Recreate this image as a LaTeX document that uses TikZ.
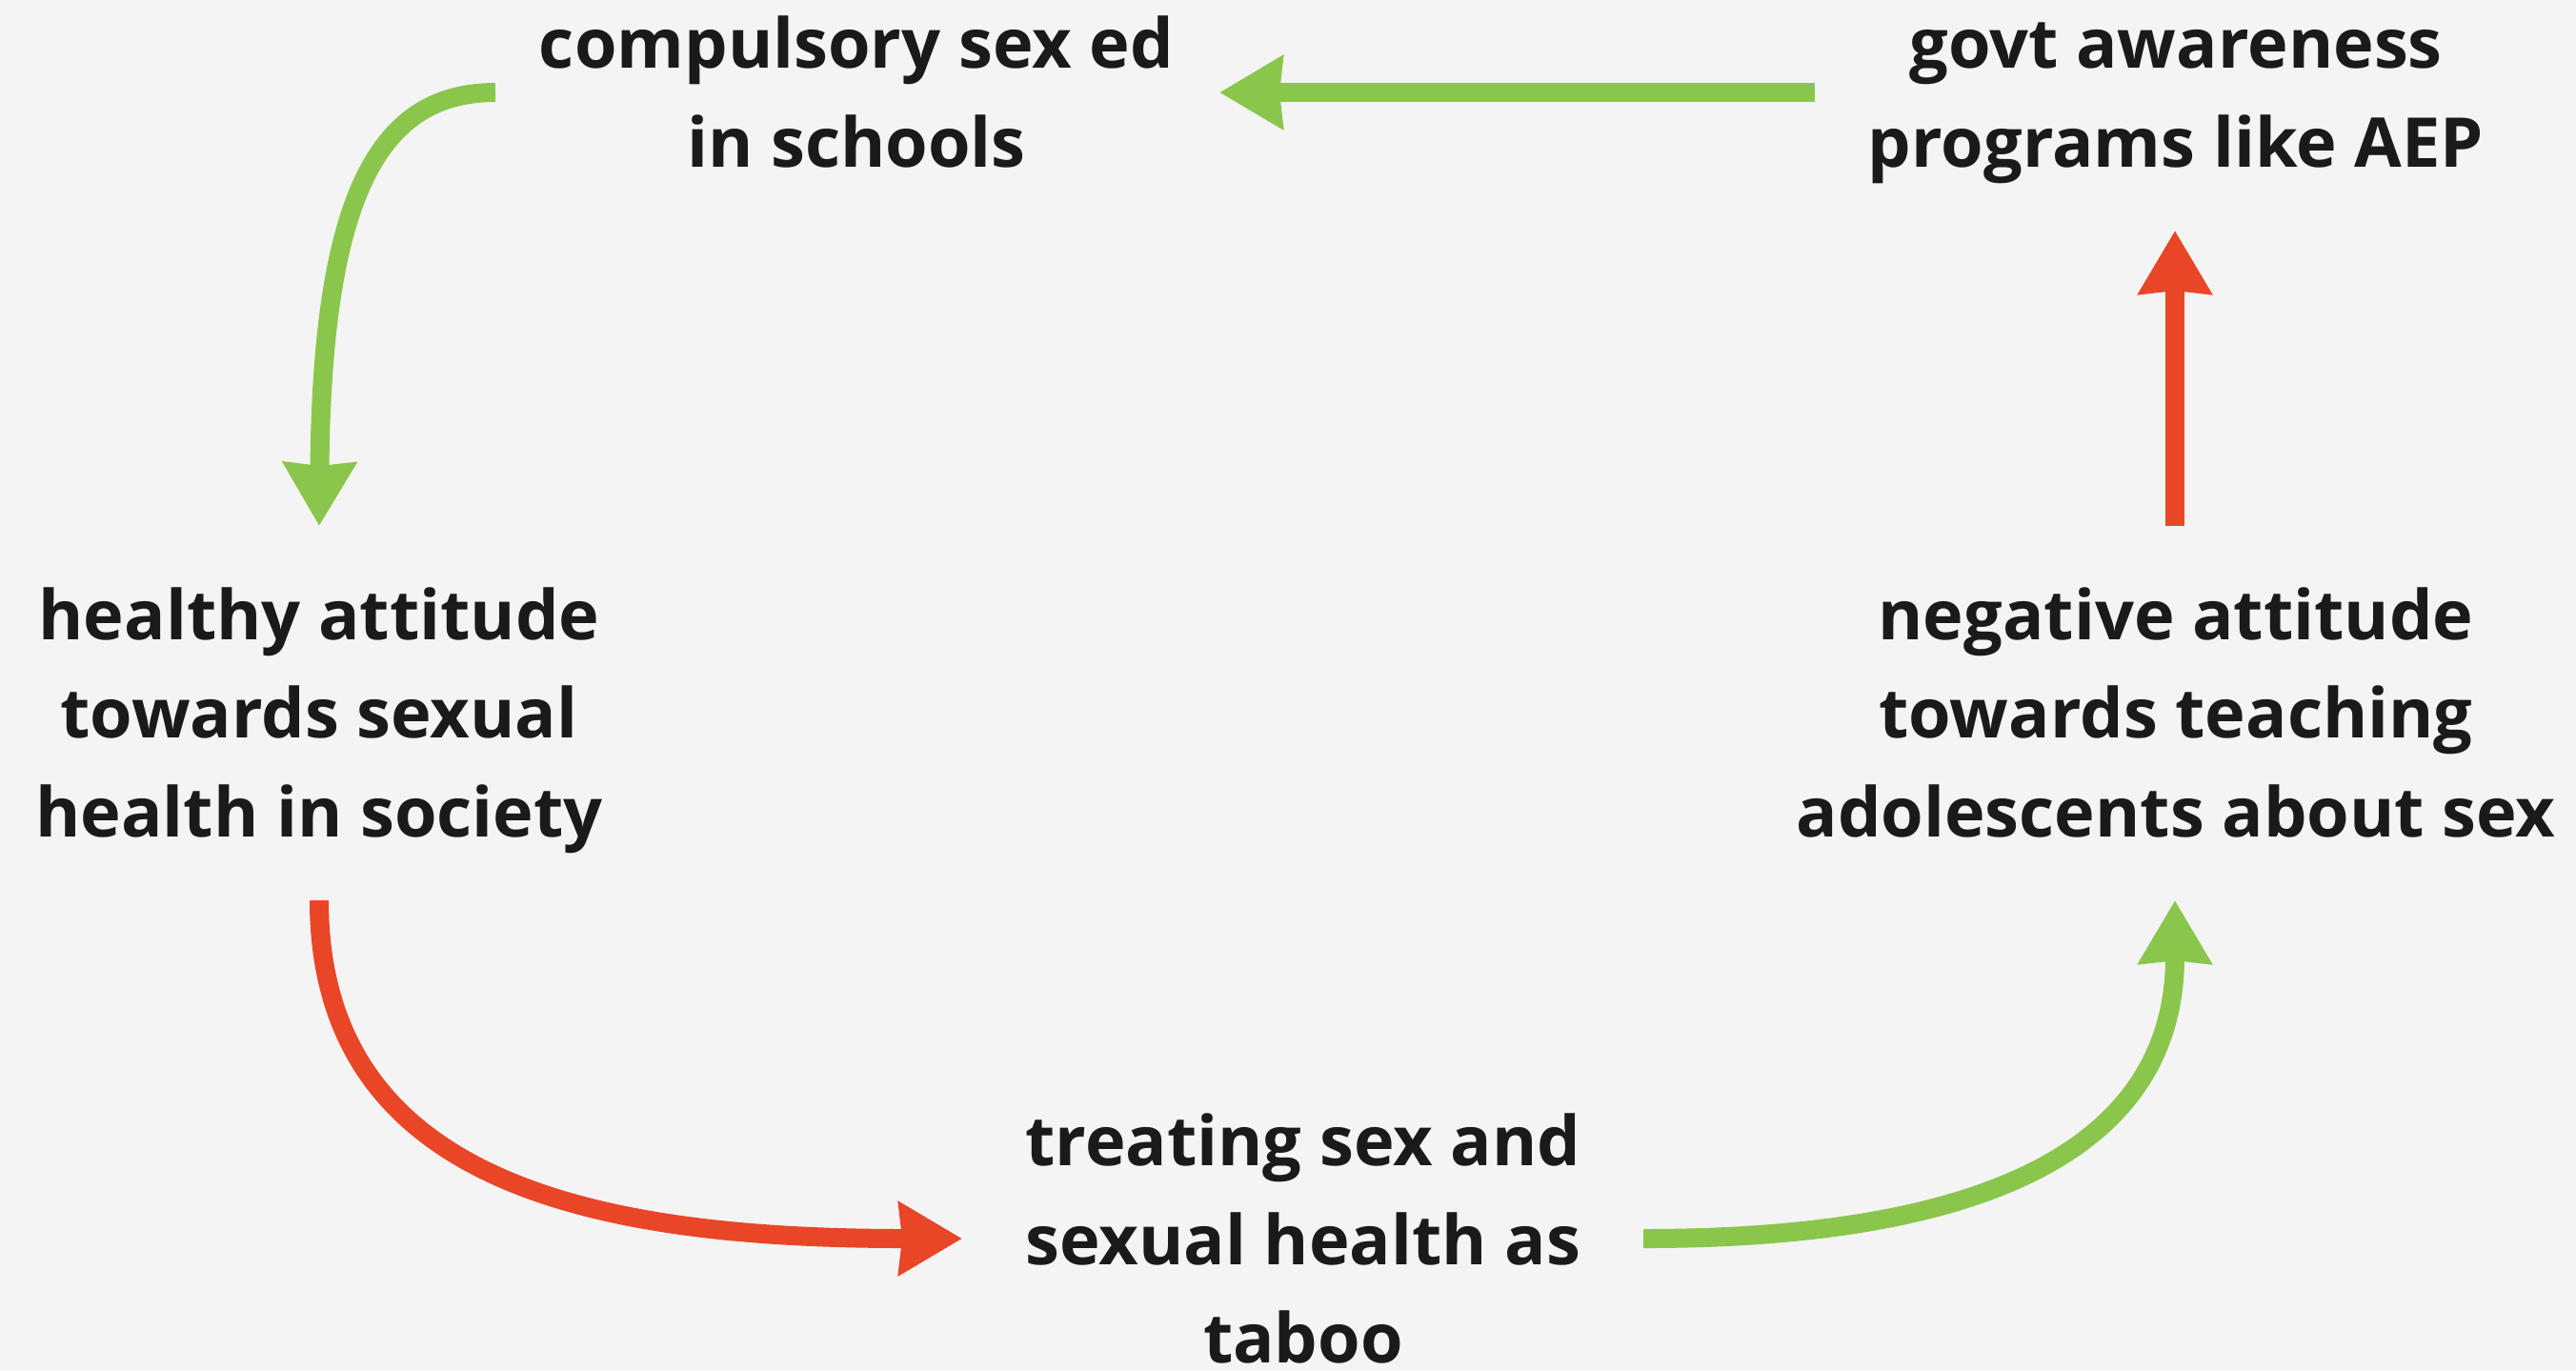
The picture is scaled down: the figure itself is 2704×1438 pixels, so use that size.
\documentclass[tikz,border=0pt]{standalone}
\usepackage{fontspec}
\setmainfont{Open Sans}
\usetikzlibrary{arrows.meta}
\definecolor{bg}{HTML}{F4F4F4}
\definecolor{grn}{HTML}{8BC64C}
\definecolor{rd}{HTML}{E84627}
\definecolor{txt}{HTML}{1A1A1A}
\begin{document}
\begin{tikzpicture}[x=0.01cm,y=-0.01cm,
  lbl/.style={align=center, anchor=base, inner sep=0pt, text=txt, font=\bfseries\fontsize{20.5pt}{29.3pt}\selectfont},
  arr/.style={line width=0.2cm, -{Stealth[length=0.66cm,width=0.75cm,inset=0.03cm]}},
  ga/.style={arr, draw=grn},
  ra/.style={arr, draw=rd}]
\fill[bg] (0,0) rectangle (2704,1438);
\useasboundingbox (0,0) rectangle (2704,1438);
\node[lbl] (sexed) at (899,175) {compulsory sex ed\\in schools};
\node[lbl] (govt) at (2284,175) {govt awareness\\programs like AEP};
\node[lbl] (healthy) at (335,878) {healthy attitude\\towards sexual\\health in society};
\node[lbl] (negative) at (2284,878) {negative attitude\\towards teaching\\adolescents about sex};
\node[lbl] (taboo) at (1368,1430) {treating sex and\\sexual health as\\taboo};
\coordinate (g1s) at (1905,97);
\coordinate (g1e) at (1280,97);
\coordinate (g2s) at (520,97);
\coordinate (g2e) at (335,552);
\coordinate (r1s) at (335,945);
\coordinate (r1e) at (1010,1300);
\coordinate (g3s) at (1725,1300);
\coordinate (g3e) at (2283,945);
\coordinate (r2s) at (2283,552);
\coordinate (r2e) at (2283,242);
\draw[ga] (g1s) -- (g1e);
\draw[ga] (g2s) .. controls (400,97) and (338,200) .. (g2e);
\draw[ra] (r1s) .. controls (335,1240) and (620,1300) .. (r1e);
\draw[ga] (g3s) .. controls (2130,1300) and (2283,1180) .. (g3e);
\draw[ra] (r2s) -- (r2e);
\end{tikzpicture}
\end{document}
